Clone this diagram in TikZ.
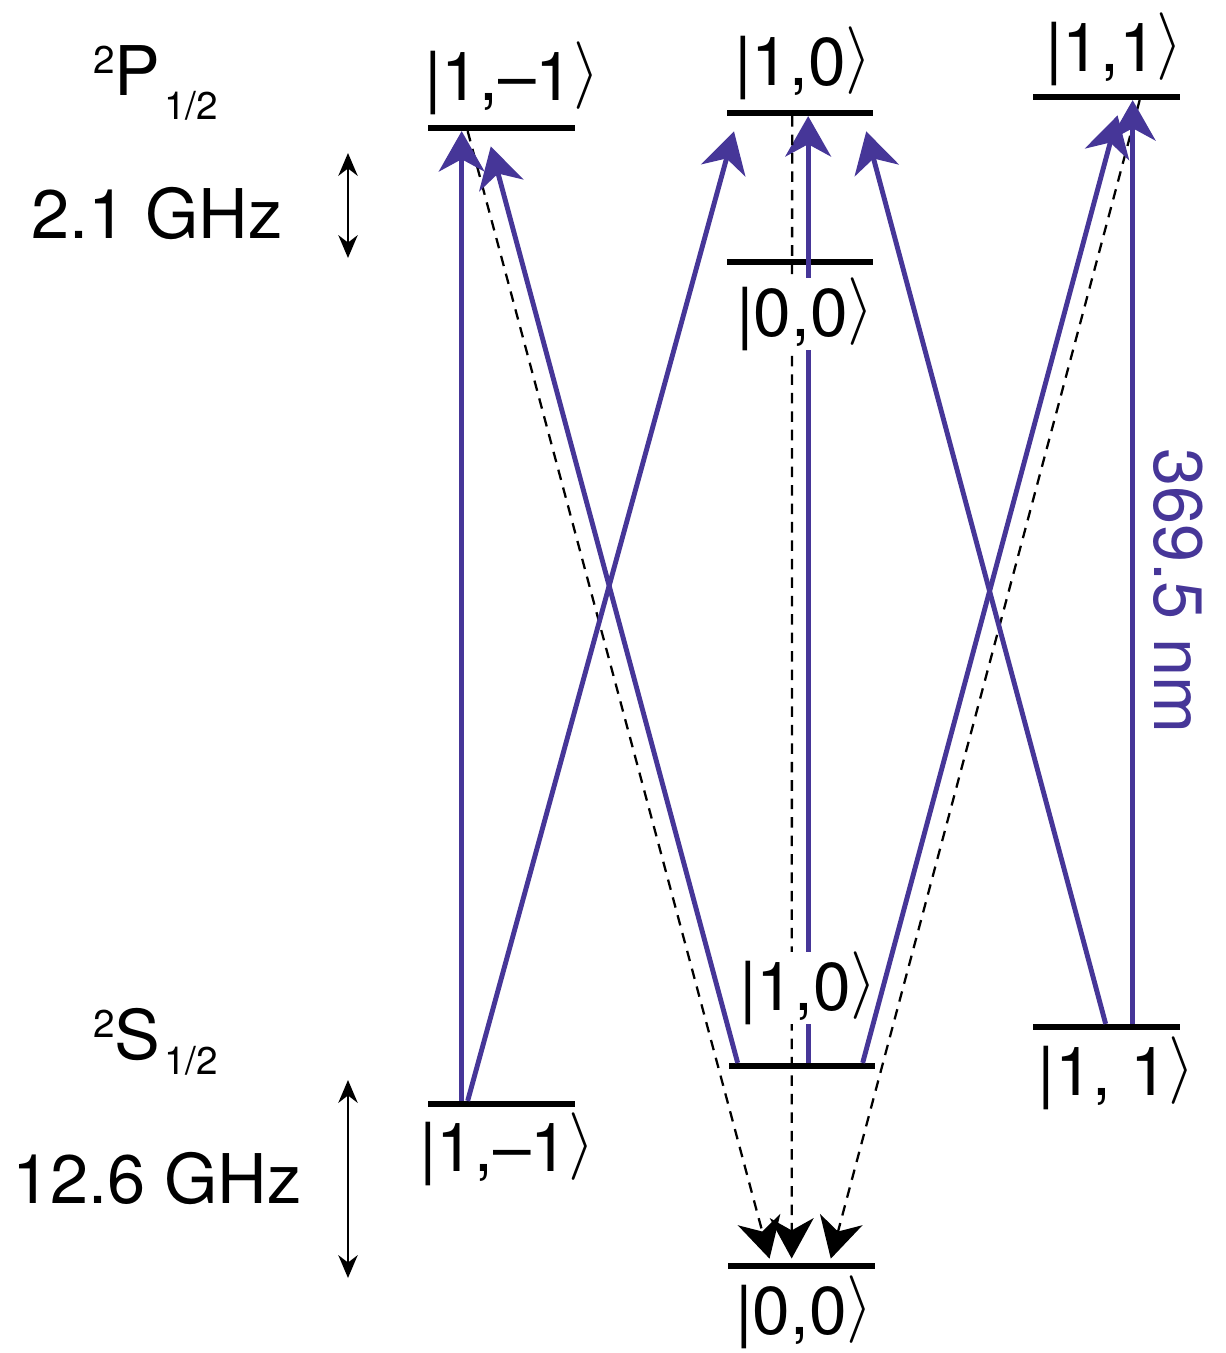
\RequirePackage{fix-cm}
\documentclass[tikz,border=0pt]{standalone}
\usepackage{fontspec}
\setmainfont{TeX Gyre Heros}
\usetikzlibrary{arrows.meta,positioning,calc}
\definecolor{PumpBlue}{RGB}{70,54,152}
\newcommand{\ket}[1]{|#1\raisebox{4pt}{$\rangle$}}
\newcommand{\term}[2]{\raisebox{12.5pt}{\fontsize{22}{22}\selectfont 2}#1\kern2pt\raisebox{-#2}{\fontsize{22}{22}\selectfont 1/2}}

\begin{document}
\begin{tikzpicture}[x=0.02cm,y=-0.02cm,
  level/.style={fill=black,inner sep=0pt,minimum width=2.94cm,minimum height=0.11cm},
  ket/.style={inner sep=0pt,fill=white,anchor=base,font=\fontsize{38.5}{42}\selectfont},
  big/.style={inner sep=0pt,font=\fontsize{39}{44}\selectfont},
  pump/.style={draw=PumpBlue,line width=2.8pt,-{Stealth[length=23pt,width=26pt,inset=7pt]}},
  decay/.style={line width=1.3pt,dash pattern=on 6pt off 4.5pt,shorten >=2.5pt,-{Stealth[length=23pt,width=25pt,inset=7pt]}},
  split/.style={line width=1.3pt,{Stealth[length=13pt,width=11pt]}-{Stealth[length=13pt,width=11pt]}}]
  \useasboundingbox (0,0) rectangle (1225,1353);

  % levels
  \node[level] (Pm) at (501.5,128) {};
  \node[level] (P10) at (800,113) {};
  \node[level] (P11) at (1106.5,97) {};
  \node[level] (P00) at (800,262) {};
  \node[level] (Sm) at (501.5,1104) {};
  \node[level] (S10) at (802,1066) {};
  \node[level] (S11) at (1106.5,1027) {};
  \node[level] (S00) at (801.5,1266) {};

  \draw[pump] ($(S10.north west)+(80,0)$) -- ($(P10.south west)+(82,0)$);
  \draw[decay] ($(Pm.south west)+(40,0)$) -- ($(S00.north west)+(43,0)$);
  \draw[decay] ($(P10.south west)+(66,0)$) -- ($(S00.north west)+(64,0)$);
  \draw[decay] ($(P11.south west)+(107,0)$) -- ($(S00.north west)+(102,0)$);

  \node[ket] (kPm) at (512,100) {\ket{1,–1}};
  \node[ket] (kP10) at (803,85) {\ket{1,0}};
  \node[ket] (kP11) at (1114,71) {\ket{1,1}};
  \node[ket] (kP00) at (805,336) {\ket{0,0}};
  \node[ket] (kS10) at (808,1010) {\ket{1,0}};
  \node[ket] (kSm) at (507,1171) {\ket{1,–1}};
  \node[ket] (kS11) at (1116,1095) {\ket{1,\ 1}};
  \node[ket] (kS00) at (804,1334) {\ket{0,0}};

  \draw[pump] ($(Sm.north west)+(34,0)$) -- ($(Pm.south west)+(34,0)$);
  \draw[pump] ($(S11.north west)+(100,0)$) -- ($(P11.south west)+(100,0)$);
  \draw[pump,shorten >=9pt] ($(Sm.north west)+(40,0)$) -- ($(P10.south west)+(12,0)$);
  \draw[pump,shorten >=9pt] ($(S10.north west)+(9.5,0)$) -- ($(Pm.south west)+(59,0)$);
  \draw[pump,shorten >=9pt] ($(S10.north west)+(134.5,0)$) -- ($(P11.south west)+(89,0)$);
  \draw[pump,shorten >=9pt] ($(S11.north west)+(73,0)$) -- ($(P10.south west)+(136,0)$);

  \node[big,anchor=base west] (Pterm) at (93,95) {\term{P}{14pt}};
  \node[big,anchor=base west] (Sterm) at (93,1059) {\term{S}{9pt}};
  \node[big] (hfP) at (157,214) {2.1 GHz};
  \node[big] (hfS) at (157,1179) {12.6 GHz};
  \node[big,text=PumpBlue,rotate=-90] (wl) at (1178,591) {369.5 nm};

  \coordinate (hfPtop) at (348,153);
  \coordinate (hfPbot) at (348,258);
  \coordinate (hfStop) at (348,1080);
  \coordinate (hfSbot) at (348,1278);
  \draw[split] (hfPtop) -- (hfPbot);
  \draw[split] (hfStop) -- (hfSbot);
\end{tikzpicture}
\end{document}
